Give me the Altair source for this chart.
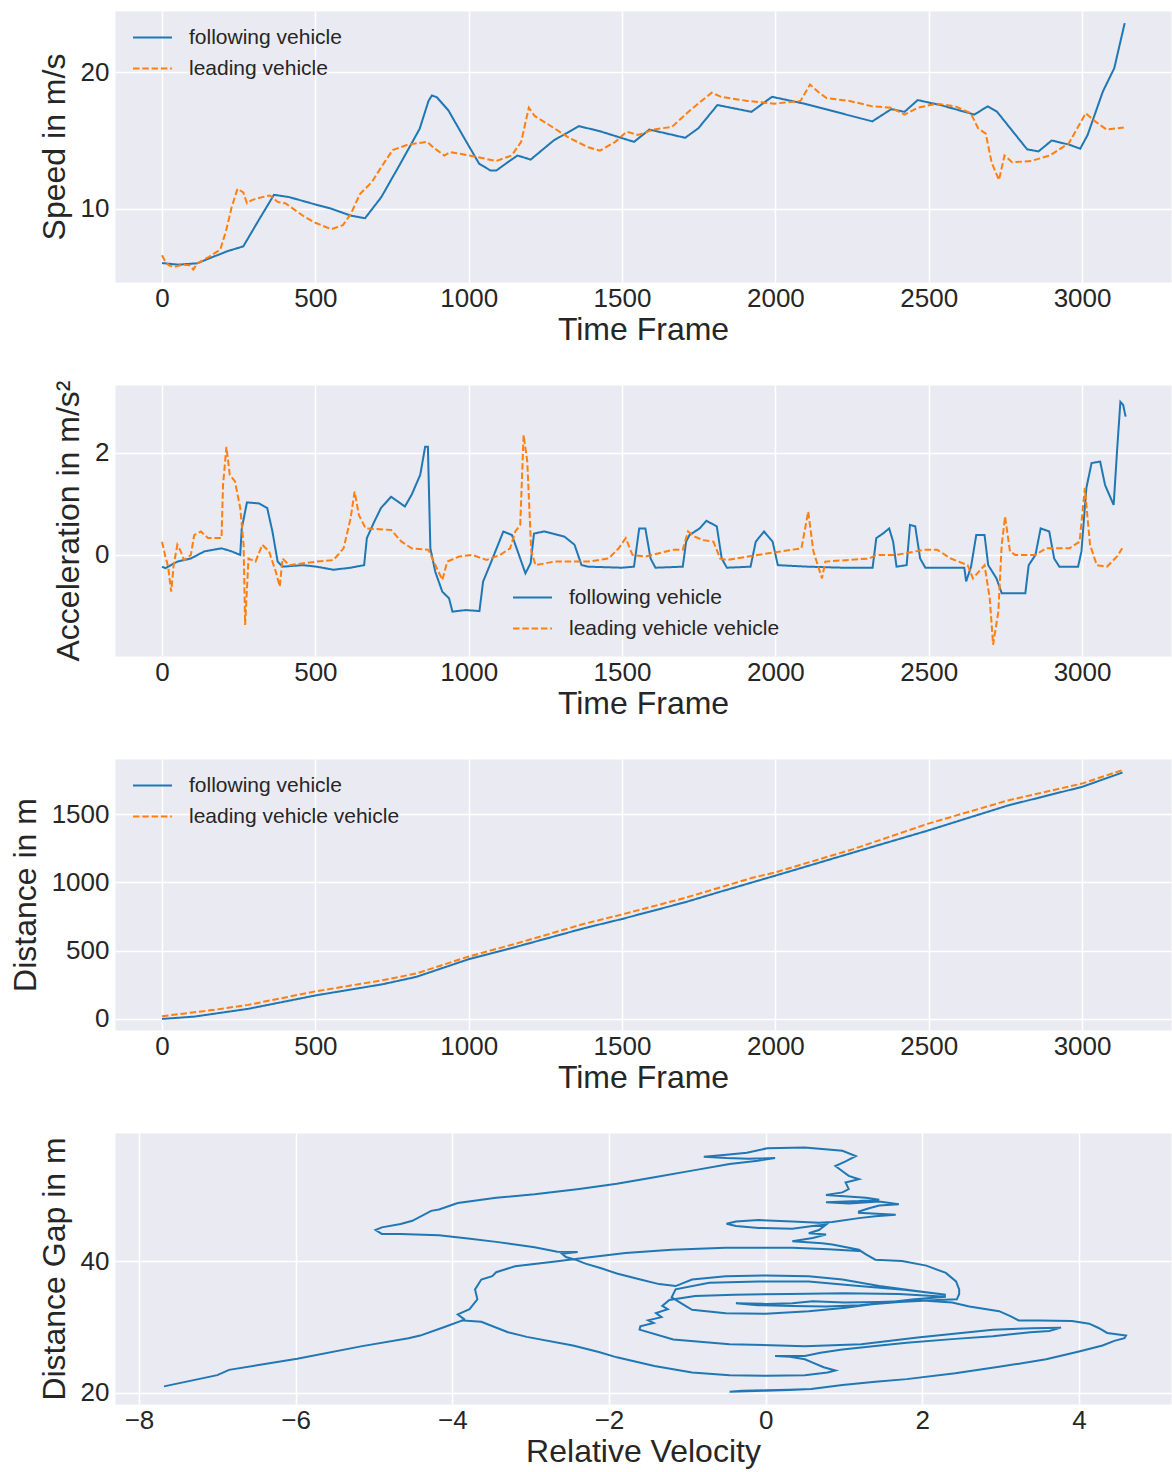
import altair as alt
import pandas as pd

FONT = "Liberation Sans"
TXT = "#262626"
BLUE = "#1f77b4"
ORANGE = "#ff7f0e"
BG = "#EAEAF2"
W, H = 1056, 271

FOLLOW = "following vehicle"
LEAD1 = "leading vehicle"
LEAD2 = "leading vehicle vehicle"

time_ticks = [0, 500, 1000, 1500, 2000, 2500, 3000]

# ---------------- Panel 1: speed ----------------
spd_f_t = [0, 52, 115, 165, 215, 265, 315, 365, 415, 502, 552, 615, 662, 715, 777, 840, 869, 880, 896, 934,
           990, 1034, 1071, 1090, 1127, 1159, 1202, 1277, 1359, 1425, 1539, 1589, 1706, 1749, 1811, 1922,
           1989, 2094, 2316, 2378, 2421, 2464, 2538, 2649, 2692, 2723, 2821, 2858, 2901, 2957, 2994, 3018,
           3068, 3105, 3139]
spd_f_v = [6.02, 5.9, 6.0, 6.46, 6.9, 7.24, 9.15, 11.02, 10.85, 10.3, 10.0, 9.5, 9.3, 10.85, 13.3, 15.85,
           17.9, 18.3, 18.17, 17.2, 15.0, 13.3, 12.8, 12.8, 13.4, 13.9, 13.6, 15.0, 16.05, 15.7, 14.9, 15.8,
           15.2, 15.9, 17.6, 17.1, 18.2, 17.7, 16.4, 17.3, 17.1, 17.96, 17.6, 16.9, 17.5, 17.1, 14.35, 14.2,
           15.0, 14.7, 14.4, 15.4, 18.6, 20.3, 23.6]
spd_l_t = [0, 9, 22, 40, 65, 90, 102, 115, 152, 190, 209, 227, 246, 265, 277, 290, 302, 327, 352, 377, 402,
           465, 502, 552, 590, 615, 646, 684, 715, 752, 802, 865, 884, 921, 940, 1002, 1090, 1140, 1171, 1196,
           1215, 1265, 1327, 1390, 1428, 1478, 1515, 1552, 1601, 1663, 1724, 1792, 1823, 1909, 1996, 2082,
           2113, 2143, 2168, 2242, 2316, 2378, 2421, 2464, 2526, 2587, 2637, 2661, 2686, 2705, 2729, 2747,
           2772, 2834, 2895, 2957, 3012, 3043, 3080, 3136]
spd_l_v = [6.59, 6.2, 5.85, 5.73, 5.9, 5.85, 5.54, 6.0, 6.46, 7.0, 8.4, 10.1, 11.46, 11.2, 10.4, 10.6, 10.7,
           10.85, 10.97, 10.5, 10.4, 9.4, 8.95, 8.5, 8.8, 9.6, 11.1, 11.95, 13.05, 14.3, 14.7, 14.9, 14.5,
           13.9, 14.15, 13.9, 13.5, 13.9, 14.9, 17.4, 16.8, 16.1, 15.2, 14.5, 14.25, 14.9, 15.65, 15.4, 15.8,
           16.0, 17.25, 18.5, 18.2, 17.9, 17.7, 17.9, 19.1, 18.5, 18.1, 17.9, 17.5, 17.4, 16.9, 17.4, 17.7,
           17.5, 17.0, 15.9, 15.5, 13.4, 12.1, 13.9, 13.4, 13.5, 13.9, 14.8, 17.0, 16.4, 15.8, 15.95]

# ---------------- Panel 2: acceleration ----------------
acc_f_t = [0, 11, 50, 94, 138, 194, 227, 255, 260, 277, 316, 343, 360, 377, 393, 460, 504, 559, 615, 659,
           668, 692, 714, 747, 792, 814, 842, 858, 867, 875, 891, 914, 936, 947, 991, 1035, 1047, 1069, 1091,
           1113, 1141, 1168, 1185, 1202, 1213, 1246, 1312, 1345, 1368, 1390, 1500, 1539, 1556, 1576, 1593,
           1609, 1698, 1709, 1720, 1753, 1775, 1809, 1825, 1842, 1919, 1936, 1963, 1991, 2008, 2107, 2218,
           2317, 2329, 2351, 2371, 2384, 2395, 2428, 2439, 2456, 2472, 2489, 2616, 2622, 2638, 2655, 2682,
           2694, 2721, 2738, 2815, 2826, 2848, 2865, 2893, 2909, 2926, 2987, 2998, 3014, 3031, 3059, 3075,
           3103, 3114, 3125, 3134, 3142]
acc_f_a = [-0.23, -0.26, -0.13, -0.07, 0.07, 0.13, 0.07, 0.0, 0.52, 1.03, 1.01, 0.92, 0.46, -0.13, -0.23,
           -0.2, -0.23, -0.29, -0.25, -0.2, 0.33, 0.65, 0.92, 1.14, 0.95, 1.18, 1.57, 2.12, 2.12, 0.13, -0.33,
           -0.72, -0.85, -1.11, -1.08, -1.1, -0.52, -0.2, 0.13, 0.46, 0.39, -0.07, -0.36, -0.16, 0.42, 0.46,
           0.36, 0.2, -0.2, -0.23, -0.25, -0.23, 0.52, 0.52, -0.07, -0.25, -0.23, 0.26, 0.39, 0.52, 0.67,
           0.56, -0.07, -0.25, -0.23, 0.26, 0.46, 0.26, -0.2, -0.23, -0.25, -0.25, 0.33, 0.42, 0.52, 0.26,
           -0.23, -0.2, 0.59, 0.56, -0.07, -0.25, -0.25, -0.52, -0.23, 0.39, 0.39, -0.2, -0.46, -0.75, -0.75,
           -0.2, 0.0, 0.52, 0.46, -0.07, -0.23, -0.23, 0.07, 1.31, 1.8, 1.83, 1.37, 0.98, 2.03, 3.0, 2.94, 2.71]
acc_l_t = [0, 11, 20, 30, 38, 50, 61, 72, 94, 105, 127, 150, 194, 199, 210, 221, 238, 255, 266, 271, 282,
           305, 327, 349, 371, 384, 393, 415, 504, 559, 592, 615, 628, 642, 664, 692, 747, 781, 814, 869, 886,
           914, 930, 969, 1013, 1058, 1102, 1135, 1152, 1168, 1179, 1191, 1204, 1218, 1279, 1390, 1456, 1489,
           1512, 1534, 1576, 1598, 1665, 1698, 1715, 1737, 1764, 1798, 1820, 1842, 1941, 2085, 2107, 2124,
           2152, 2163, 2306, 2329, 2395, 2483, 2528, 2572, 2627, 2644, 2682, 2699, 2710, 2727, 2738, 2749,
           2765, 2782, 2848, 2882, 2959, 2992, 3009, 3026, 3048, 3081, 3114, 3131]
acc_l_a = [0.26, -0.03, -0.23, -0.72, -0.2, 0.2, 0.07, -0.1, 0.0, 0.39, 0.46, 0.33, 0.33, 1.37, 2.12, 1.57,
           1.44, 0.92, 0.2, -1.37, -0.07, -0.13, 0.2, 0.07, -0.33, -0.62, -0.07, -0.2, -0.13, -0.1, 0.13, 0.72,
           1.24, 0.78, 0.52, 0.51, 0.49, 0.26, 0.13, 0.1, -0.13, -0.49, -0.13, -0.03, 0.0, -0.1, 0.0, 0.13,
           0.46, 0.59, 2.35, 1.83, 0.07, -0.2, -0.13, -0.13, -0.07, 0.13, 0.33, 0.0, -0.03, 0.0, 0.1, 0.1,
           0.46, 0.36, 0.29, 0.26, -0.07, -0.1, 0.0, 0.13, 0.85, 0.07, -0.46, -0.13, -0.07, 0.0, 0.0, 0.1, 0.1,
           -0.07, -0.2, -0.46, -0.2, -0.85, -1.76, -1.11, 0.2, 0.75, 0.07, 0.0, 0.0, 0.13, 0.13, 0.26, 1.31,
           0.2, -0.2, -0.23, -0.03, 0.13]

# ---------------- Panel 3: distance ----------------
dst_f_t = [0, 105, 281, 500, 719, 829, 998, 1158, 1377, 1498, 1706, 1816, 1996, 2254, 2496, 2759, 3000, 3132]
dst_f_d = [0, 17, 74, 172, 254, 308, 436, 530, 665, 731, 855, 929, 1047, 1219, 1379, 1564, 1700, 1805]
dst_l_t = [0, 171, 281, 500, 719, 829, 998, 1158, 1377, 1498, 1706, 1925, 1996, 2254, 2496, 2759, 3000, 3132]
dst_l_d = [20, 67, 103, 202, 283, 333, 456, 554, 697, 764, 887, 1034, 1071, 1244, 1429, 1601, 1724, 1823]

# ---------------- Panel 4: gap vs relative velocity ----------------
rv_main = [0.58, 0.3, 0.0, -0.25, -0.46, -0.3, 0.0, 0.3, 0.58, 0.98, 1.4, 1.8, 2.42, 3.0, 3.58, 4.0, 4.3, 4.45, 4.58,
           4.6, 4.36, 4.25, 4.13, 3.91, 3.5, 3.23, 3.13, 2.98, 2.6, 2.38,
           2.0, 1.45, 1.0, 0.6, 0.34, 0.0, -0.38, -0.1, 0.35, 0.77, 1.2, 1.7, 2.2, 2.44,
           2.47, 2.47, 2.43, 2.3, 2.05, 1.74, 1.4, 1.28, 1.19, 0.85, 0.72, 0.34, 0.6, 0.77, 0.55, 0.68, 0.77,
           0.6, 0.34, -0.09, -0.38, -0.5, -0.38, -0.09, 0.34, 0.68, 0.85, 1.19, 1.4, 1.66, 1.19, 1.19, 1.32,
           1.45, 1.7, 1.45, 1.06, 0.77, 1.19, 1.45, 1.28, 0.77, 0.98, 1.06, 1.02, 1.19, 1.06, 0.98, 0.89, 1.02,
           1.15, 0.98, 0.5, 0.02, -0.24, -0.5, -0.79, -0.5, -0.22, 0.12, -0.1, -0.46, -0.94, -1.42, -1.9, -2.38,
           -2.95, -3.44, -3.93, -4.17, -4.27, -4.51, -4.66, -4.9, -4.98, -4.9, -4.66, -4.17, -3.8, -3.44, -2.95,
           -2.66, -2.4, -2.6, -2.55, -2.43, -2.3, -2.1, -1.9, -1.6, -1.36, -1.15,
           -0.94, -0.51, 0.0, 0.55, 0.98, 1.45, 1.9, 2.3, 1.8, 1.19, 0.55, -0.09, -0.72, -1.15, -1.2, -1.05,
           -0.94, -0.51, 0.0, 0.55, 1.02, 1.45, 1.9, 2.3, 1.7, 1.0, 0.3, -0.4, -0.9, -1.23, -1.32, -1.25, -1.4,
           -1.33, -1.5, -1.43, -1.6, -1.61, -1.18, -0.46, 0.5, 1.22, 1.94, 2.9, 3.4, 3.77,
           3.62, 3.38, 2.9, 2.42, 1.8, 1.46, 0.98, 0.7, 0.5, 0.12, 0.31, 0.5, 0.6, 0.74, 0.89, 0.79, 0.5, 0.02,
           -0.46, -0.94, -1.42, -1.9, -2.13, -2.46, -3.05, -3.29, -3.63, -3.87,
           -3.85, -3.93, -3.78, -3.68, -3.71, -3.63, -3.49, -3.44, -3.2, -2.71, -2.3, -1.79, -1.2, -0.51, 0.34,
           0.8, 1.19]
gap_main = [20.6, 20.45, 20.35, 20.25, 20.2, 20.35, 20.4, 20.5, 20.6, 21.2, 21.7, 22.1, 23.0, 24.0, 25.1, 26.3,
            27.2, 27.9, 28.3,
            28.7, 29.1, 29.85, 30.5, 30.9, 31.0, 31.0, 31.6, 32.4, 33.1, 33.7,
            34.0, 33.8, 33.7, 33.9, 33.6, 33.5, 33.6, 33.3, 33.2, 33.1, 33.3, 33.8, 34.1, 34.2,
            35.0, 35.7, 36.9, 38.2, 39.3, 40.0, 40.2, 41.0, 41.7, 42.5, 42.7, 43.0, 43.5, 44.0, 44.2, 44.7, 45.5,
            45.3, 44.9, 45.0, 45.3, 45.65, 46.0, 46.2, 46.0, 45.8, 45.9, 46.5, 46.8, 47.0, 47.3, 47.5, 48.0,
            48.4, 48.6, 49.0, 48.7, 48.9, 49.1, 49.3, 49.6, 50.0, 50.4, 50.9, 51.9, 52.4, 52.9, 53.6, 54.4, 55.1,
            55.9, 56.7, 57.2, 57.1, 56.4, 56.1, 55.8, 55.6, 55.5, 55.6, 55.2, 54.7, 53.7, 52.7, 51.7, 50.9,
            50.1, 49.6, 48.8, 47.8, 47.6, 46.1, 45.6, 45.1, 44.7, 44.1, 44.1, 43.9, 43.4, 42.9, 42.1,
            41.4, 41.35, 41.1, 40.6, 40.2, 39.6, 38.9, 38.1, 37.2, 36.5, 36.2,
            37.2, 37.7, 37.8, 37.7, 37.2, 36.2, 35.5, 34.9, 35.6, 36.2, 36.9, 36.9, 36.7, 35.7, 34.5, 33.4,
            32.6, 32.1, 32.0, 32.4, 32.9, 33.6, 34.2, 34.6, 35.0, 35.1, 35.0, 34.9, 34.7, 34.1, 33.2, 32.7, 32.1,
            31.5, 31.0, 30.6, 30.1, 29.6, 28.1, 27.4, 27.1, 27.4, 28.4, 29.6, 29.8, 29.9,
            29.4, 29.2, 28.6, 28.2, 27.6, 27.2, 26.6, 26.1, 25.6, 25.6, 25.5, 25.1, 24.6, 23.9, 23.4, 23.1, 22.7,
            22.6, 22.7, 23.1, 24.1, 25.4, 26.2, 27.2, 28.5, 29.2, 30.8, 31.0,
            31.2, 31.9, 32.7, 34.2, 35.7, 37.2, 37.7, 38.3, 39.2, 39.9, 40.5, 41.2, 41.7, 42.0, 42.0,
            41.8, 41.5]
rv_end = [-3.87, -4.1, -4.41, -4.56, -5.15, -5.98, -6.85, -7.0, -7.68]
gap_end = [31.0, 30.0, 28.7, 28.3, 27.1, 25.2, 23.5, 22.7, 21.0]


def long_df(t1, v1, t2, v2, lead_label):
    a = pd.DataFrame({"t": t1, "v": v1, "series": FOLLOW})
    b = pd.DataFrame({"t": t2, "v": v2, "series": lead_label})
    return pd.concat([a, b], ignore_index=True)


def time_panel(df, lead_label, ytitle, ydom, yticks, lx, ly):
    dom = [FOLLOW, lead_label]
    leg = alt.Legend(title=None, orient="none", legendX=lx, legendY=ly, symbolType="stroke",
                     symbolSize=1521, symbolStrokeWidth=2, labelFontSize=21, labelColor=TXT,
                     labelFont=FONT, labelOffset=16, rowPadding=0, padding=0, labelLimit=400)
    return alt.Chart(df).mark_line(strokeWidth=2, clip=True).encode(
        x=alt.X("t:Q", scale=alt.Scale(domain=[-153.3, 3290], nice=False, zero=False),
                axis=alt.Axis(values=time_ticks, title="Time Frame", format="d",
                              labelPadding=3, titlePadding=3)),
        y=alt.Y("v:Q", scale=alt.Scale(domain=ydom, nice=False, zero=False),
                axis=alt.Axis(values=yticks, title=ytitle, format="d", titlePadding=9)),
        color=alt.Color("series:N", scale=alt.Scale(domain=dom, range=[BLUE, ORANGE]), legend=leg),
        strokeDash=alt.StrokeDash("series:N", scale=alt.Scale(domain=dom, range=[[1, 0], [6.5, 2.8]]), legend=leg),
    ).properties(width=W, height=H)


p1 = time_panel(long_df(spd_f_t, spd_f_v, spd_l_t, spd_l_v, LEAD1), LEAD1, "Speed in m/s",
                [4.63, 24.49], [10, 20], 17, 6)
p2 = time_panel(long_df(acc_f_t, acc_f_a, acc_l_t, acc_l_a, LEAD2), LEAD2, "Acceleration in m/s²",
                [-1.98, 3.33], [0, 2], 397, 192)
p3 = time_panel(long_df(dst_f_t, dst_f_d, dst_l_t, dst_l_d, LEAD2), LEAD2, "Distance in m",
                [-81, 1904], [0, 500, 1000, 1500], 17, 6)

df4 = pd.concat([
    pd.DataFrame({"rv": rv_main, "gap": gap_main, "seg": "a", "idx": range(len(rv_main))}),
    pd.DataFrame({"rv": rv_end, "gap": gap_end, "seg": "b", "idx": range(len(rv_end))}),
], ignore_index=True)

p4 = alt.Chart(df4).mark_line(strokeWidth=2, color=BLUE, clip=True).encode(
    x=alt.X("rv:Q", scale=alt.Scale(domain=[-8.306, 5.174], nice=False, zero=False),
            axis=alt.Axis(values=[-8, -6, -4, -2, 0, 2, 4], title="Relative Velocity", format="d",
                          labelPadding=3, titlePadding=3)),
    y=alt.Y("gap:Q", scale=alt.Scale(domain=[18.33, 59.4], nice=False, zero=False),
            axis=alt.Axis(values=[20, 40], title="Distance Gap in m", format="d", titlePadding=9)),
    detail="seg:N",
    order=alt.Order("idx:Q"),
).properties(width=W, height=H)

chart = alt.vconcat(p1, p2, p3, p4, spacing=103, bounds="flush").resolve_scale(
    color="independent", strokeDash="independent"
).resolve_legend(
    color="independent", strokeDash="independent"
).properties(
    padding={"left": 8, "top": 10, "right": 0, "bottom": 5}
).configure(
    background="white"
).configure_view(
    fill=BG, stroke="transparent"
).configure_axis(
    labelFont=FONT, labelFontSize=26, labelColor=TXT, titleFont=FONT, titleFontSize=32,
    titleFontWeight="normal", titleColor=TXT, grid=True, gridColor="white", gridWidth=1.5,
    domain=False, ticks=False, labelPadding=6, titlePadding=2
)

chart.save("out.html", embed_options={"renderer": "svg", "actions": False})
